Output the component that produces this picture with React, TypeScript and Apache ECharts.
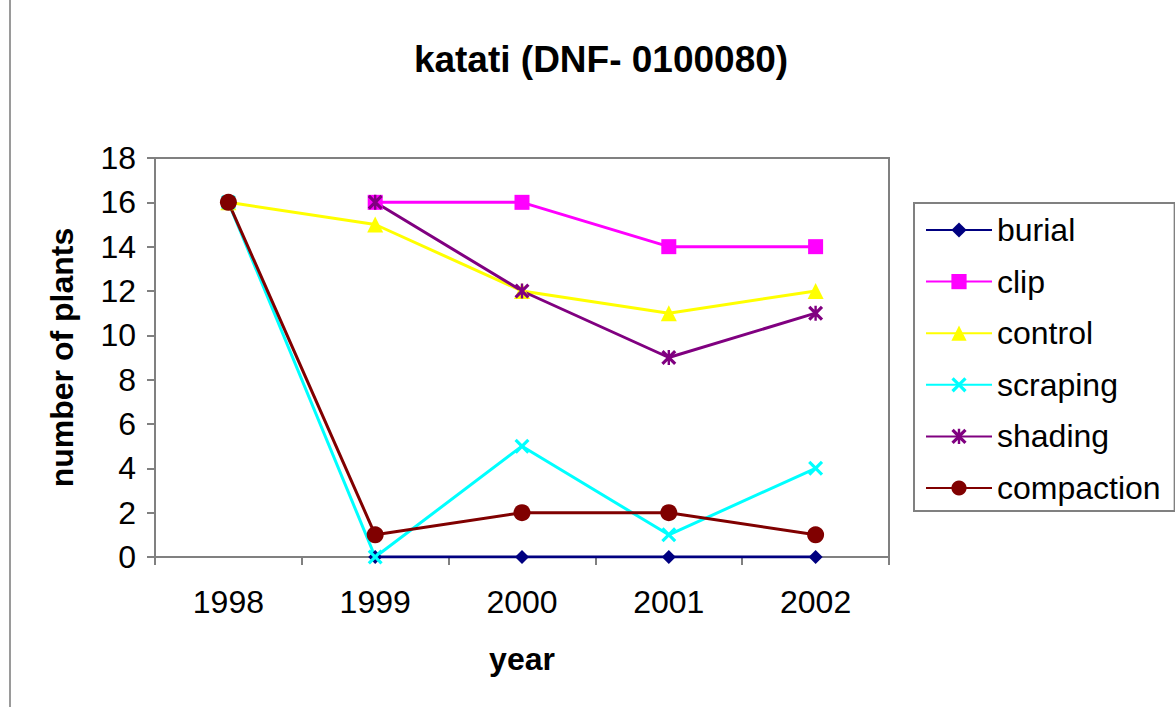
import React, { useEffect, useRef } from "react";
import * as echarts from "echarts";

// Plant counts per treatment, katati site DNF-0100080
const years = ["1998", "1999", "2000", "2001", "2002"];
const burial = [null, 0, 0, 0, 0];
const clip = [null, 16, 16, 14, 14];
const control = [16, 15, 12, 11, 12];
const scraping = [16, 0, 5, 1, 4];
const shading = [null, 16, 12, 9, 11];
const compaction = [16, 1, 2, 2, 1];

const yTicks = { min: 0, max: 18, interval: 2 };

// Marker outlines (10x10 box)
const crossPath =
  "path://M0,1.5 L1.5,0 L5,3.5 L8.5,0 L10,1.5 L6.5,5 L10,8.5 L8.5,10 L5,6.5 L1.5,10 L0,8.5 L3.5,5 Z";
const starPath =
  "path://M0,1.5 L1.5,0 L5,3.5 L8.5,0 L10,1.5 L6.5,5 L10,8.5 L8.5,10 L5,6.5 L1.5,10 L0,8.5 L3.5,5 Z M4.2,0 L5.8,0 L5.8,10 L4.2,10 Z";

const FONT = "Liberation Sans, Arial, sans-serif";

export default function App() {
  const ref = useRef<HTMLDivElement>(null);

  useEffect(() => {
    if (!ref.current) return;
    const chart = echarts.init(ref.current, null, { renderer: "svg" });

    const mk = (name: string, data: (number | null)[], color: string, symbol: string, size: number) => ({
      name,
      type: "line",
      data,
      symbol,
      symbolSize: size,
      connectNulls: false,
      itemStyle: { color },
      lineStyle: { color, width: 3 },
      emphasis: { disabled: true },
    });

    chart.setOption({
      animation: false,
      backgroundColor: "#ffffff",
      textStyle: { fontFamily: FONT },
      title: {
        text: "katati (DNF- 0100080)",
        left: 596,
        top: 36,
        textAlign: "center",
        textStyle: { fontFamily: FONT, fontSize: 37, fontWeight: "bold", color: "#000" },
      },
      grid: {
        left: 155,
        right: 286,
        top: 158,
        bottom: 150,
        show: true,
        borderColor: "#808080",
        borderWidth: 2,
        backgroundColor: "transparent",
      },
      legend: {
        orient: "vertical",
        left: 914,
        top: 203,
        padding: [10, 14, 6, 11],
        borderColor: "#808080",
        borderWidth: 2,
        itemWidth: 66,
        itemHeight: 19,
        itemGap: 17.6,
        textStyle: { fontFamily: FONT, fontSize: 32, color: "#000", lineHeight: 34 },
        data: ["burial", "clip", "control", "scraping", "shading", "compaction"],
      },
      xAxis: {
        type: "category",
        data: years,
        boundaryGap: true,
        name: "year",
        nameLocation: "middle",
        nameGap: 86,
        nameTextStyle: { fontFamily: FONT, fontSize: 32, fontWeight: "bold", color: "#000" },
        axisLine: { lineStyle: { color: "#808080", width: 2 } },
        axisTick: { show: true, alignWithLabel: false, length: 8, lineStyle: { color: "#808080", width: 2 } },
        axisLabel: { fontFamily: FONT, fontSize: 32, color: "#000", margin: 29 },
        splitLine: { show: false },
      },
      yAxis: {
        type: "value",
        min: yTicks.min,
        max: yTicks.max,
        interval: yTicks.interval,
        name: "number of plants",
        nameLocation: "middle",
        nameGap: 77,
        nameRotate: 90,
        nameTextStyle: { fontFamily: FONT, fontSize: 32, fontWeight: "bold", color: "#000" },
        axisLine: { show: true, lineStyle: { color: "#808080", width: 2 } },
        axisTick: { show: true, length: 8, lineStyle: { color: "#808080", width: 2 } },
        axisLabel: { fontFamily: FONT, fontSize: 32, color: "#000", margin: 19 },
        splitLine: { show: false },
      },
      graphic: [
        {
          type: "line",
          shape: { x1: 10, y1: 0, x2: 10, y2: 707 },
          style: { stroke: "#9a9a9a", lineWidth: 2 },
          silent: true,
        },
      ],
      series: [
        mk("burial", burial, "#000080", "diamond", 14),
        mk("clip", clip, "#FF00FF", "rect", 15),
        mk("control", control, "#FFFF00", "triangle", 16),
        mk("scraping", scraping, "#00FFFF", crossPath, 15),
        mk("shading", shading, "#800080", starPath, 15),
        mk("compaction", compaction, "#800000", "circle", 17),
      ],
    });

    return () => chart.dispose();
  }, []);

  return (
    <div
      ref={ref}
      style={{ position: "absolute", left: 0, top: 0, width: 1175, height: 707 }}
    />
  );
}
